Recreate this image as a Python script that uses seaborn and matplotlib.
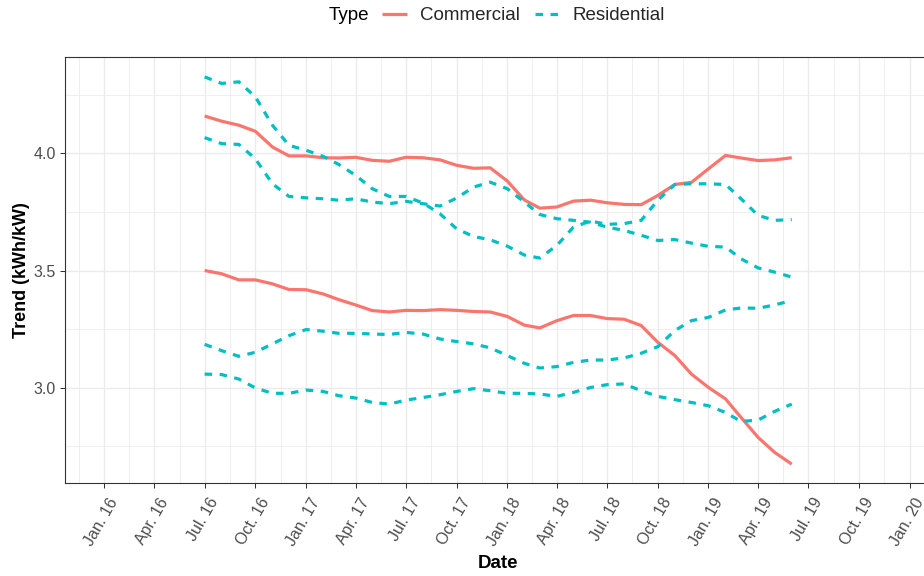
import numpy as np
import pandas as pd
import seaborn as sns
import matplotlib
matplotlib.use("Agg")
import matplotlib.pyplot as plt
import matplotlib.dates as mdates
import matplotlib.transforms as mtransforms
from matplotlib.lines import Line2D

# ---- data -------------------------------------------------------------
months = pd.date_range("2016-07-01", "2019-06-01", freq="MS")

commercial_high = [4.159, 4.137, 4.120, 4.094, 4.027, 3.989, 3.989, 3.981, 3.980, 3.983,
                   3.970, 3.966, 3.983, 3.981, 3.972, 3.949, 3.936, 3.938, 3.882, 3.801,
                   3.766, 3.771, 3.796, 3.800, 3.789, 3.782, 3.781, 3.820, 3.867, 3.876,
                   3.934, 3.991, 3.980, 3.969, 3.972, 3.981]
commercial_low = [3.500, 3.486, 3.460, 3.460, 3.443, 3.419, 3.418, 3.400, 3.376, 3.353,
                  3.329, 3.323, 3.330, 3.329, 3.333, 3.330, 3.325, 3.323, 3.304, 3.267,
                  3.255, 3.286, 3.308, 3.308, 3.295, 3.292, 3.265, 3.194, 3.137, 3.058,
                  3.001, 2.952, 2.873, 2.788, 2.724, 2.674]
residential_a = [4.326, 4.298, 4.305, 4.241, 4.120, 4.034, 4.013, 3.987, 3.953, 3.906,
                 3.849, 3.816, 3.816, 3.788, 3.742, 3.678, 3.645, 3.631, 3.604, 3.566,
                 3.553, 3.607, 3.685, 3.711, 3.697, 3.700, 3.714, 3.800, 3.867, 3.870,
                 3.870, 3.867, 3.806, 3.735, 3.714, 3.717]
residential_b = [4.067, 4.041, 4.038, 3.977, 3.870, 3.816, 3.810, 3.806, 3.800, 3.806,
                 3.792, 3.785, 3.795, 3.785, 3.775, 3.809, 3.856, 3.877, 3.849, 3.792,
                 3.739, 3.721, 3.714, 3.706, 3.685, 3.671, 3.650, 3.628, 3.632, 3.617,
                 3.603, 3.600, 3.550, 3.511, 3.493, 3.472]
residential_c = [3.185, 3.158, 3.134, 3.151, 3.187, 3.222, 3.248, 3.241, 3.232, 3.232,
                 3.229, 3.227, 3.236, 3.229, 3.208, 3.197, 3.187, 3.170, 3.137, 3.104,
                 3.084, 3.090, 3.108, 3.118, 3.118, 3.127, 3.147, 3.175, 3.244, 3.286,
                 3.300, 3.332, 3.340, 3.339, 3.353, 3.372]
residential_d = [3.058, 3.056, 3.037, 2.999, 2.976, 2.976, 2.990, 2.984, 2.966, 2.956,
                 2.937, 2.930, 2.947, 2.958, 2.970, 2.984, 2.996, 2.987, 2.976, 2.976,
                 2.973, 2.963, 2.980, 3.001, 3.013, 3.016, 2.987, 2.963, 2.949, 2.937,
                 2.923, 2.894, 2.856, 2.862, 2.899, 2.930]

series = {
    ("Commercial", "C1"): commercial_high,
    ("Commercial", "C2"): commercial_low,
    ("Residential", "R1"): residential_a,
    ("Residential", "R2"): residential_b,
    ("Residential", "R3"): residential_c,
    ("Residential", "R4"): residential_d,
}

tick_dates = pd.date_range("2016-01-01", "2020-01-01", freq="QS")
tick_labels = [d.strftime("%b. %y") for d in tick_dates]

frames = []
for (kind, name), vals in series.items():
    frames.append(pd.DataFrame({"Date": months, "Trend": vals, "Type": kind, "Series": name}))
df = pd.concat(frames, ignore_index=True)

palette = {"Commercial": "#F8766D", "Residential": "#00BFC4"}
dash_styles = {"Commercial": "", "Residential": (2.35, 2.35)}

# ---- style ------------------------------------------------------------
sns.set_style("white")
plt.rcParams["font.family"] = ["Liberation Sans", "DejaVu Sans"]
plt.rcParams["lines.solid_capstyle"] = "butt"
plt.rcParams["lines.dash_capstyle"] = "butt"

W, H = 924, 576
fig = plt.figure(figsize=(W / 100, H / 100), dpi=100)
fig.patch.set_facecolor("white")

left_px, right_px, top_px, bottom_px = 65.3, 931.0, 57.3, 482.7
ax = fig.add_axes([left_px / W, 1 - bottom_px / H,
                   (right_px - left_px) / W, (bottom_px - top_px) / H])

sns.lineplot(data=df, x="Date", y="Trend", hue="Type", style="Type", units="Series",
             estimator=None, palette=palette, dashes=dash_styles, linewidth=2.3,
             legend=False, ax=ax, zorder=3)

# ---- axes -------------------------------------------------------------
origin = mdates.date2num(pd.Timestamp("2016-01-01"))
ax.set_xlim(origin - 70.7, origin + 1499.6)
ax.set_ylim(2.5947, 4.4096)

major_x = mdates.date2num(tick_dates)
ax.set_xticks(major_x)
ax.set_xticklabels(tick_labels)
minor_x = list((major_x[:-1] + major_x[1:]) / 2)
minor_x.insert(0, major_x[0] - (major_x[1] - major_x[0]) / 2)
ax.set_xticks(minor_x, minor=True)

ax.set_yticks([3.0, 3.5, 4.0])
ax.set_yticklabels(["3.0", "3.5", "4.0"])
ax.set_yticks([2.75, 3.25, 3.75, 4.25], minor=True)

ax.grid(which="major", color="#EBEBEB", linewidth=0.95, zorder=0)
ax.grid(which="minor", color="#EBEBEB", linewidth=0.55, zorder=0)
ax.set_axisbelow(True)

for sp in ax.spines.values():
    sp.set_color("#333333")
    sp.set_linewidth(0.8)

ax.tick_params(axis="both", which="major", bottom=True, left=True, direction="out",
               length=3.6, width=0.75, color="#333333",
               labelcolor="#4D4D4D", labelsize=11.5)
ax.tick_params(axis="both", which="minor", length=0)
ax.tick_params(axis="y", pad=3.0)
ax.tick_params(axis="x", pad=5.5)

offset = mtransforms.ScaledTranslation(4 / 100, 0, fig.dpi_scale_trans)
for lab in ax.get_xticklabels():
    lab.set_rotation(60)
    lab.set_ha("right")
    lab.set_va("top")
    lab.set_rotation_mode("anchor")
    lab.set_transform(lab.get_transform() + offset)

ax.set_xlabel("Date", fontsize=13.5, fontweight="bold", color="black", labelpad=5)
ax.set_ylabel("Trend (kWh/kW)", fontsize=13, fontweight="bold", color="black", labelpad=2.5)

# ---- legend -----------------------------------------------------------
handles = [Line2D([0], [0], color=palette["Commercial"], lw=2.3),
           Line2D([0], [0], color=palette["Residential"], lw=2.3, dashes=dash_styles["Residential"])]
fig.legend(handles, ["Commercial", "Residential"], ncol=2, frameon=False,
           loc="center left", bbox_to_anchor=(382 / W, 1 - 15.5 / H),
           fontsize=13.5, handlelength=1.33, handletextpad=0.69, columnspacing=0.8,
           borderpad=0, borderaxespad=0)
fig.text(329 / W, 1 - 15.5 / H, "Type", fontsize=13.5, ha="left", va="center", color="black")

fig.savefig("out.png", dpi=100, facecolor="white")
